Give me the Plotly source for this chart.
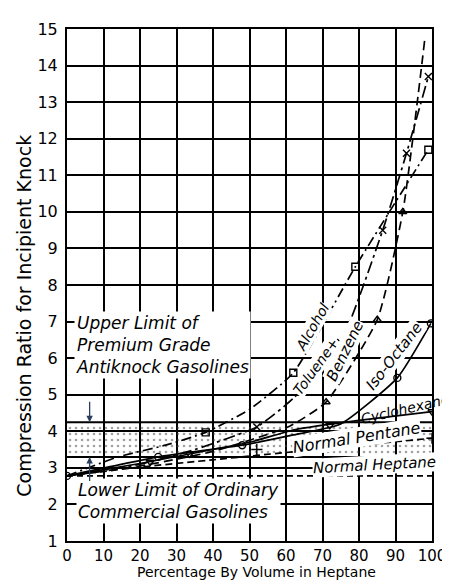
import plotly.graph_objects as go

# ---- data ----
alcohol_x = [0, 14, 27, 38, 50, 62, 79, 99]
alcohol_y = [2.78, 3.3, 3.62, 3.97, 4.6, 5.6, 8.5, 11.7]
alcohol_mx = [38, 62, 79, 99]
alcohol_my = [3.97, 5.6, 8.5, 11.7]

toluene_x = [0, 20, 35, 52, 62, 75, 86.5, 93, 99]
toluene_y = [2.78, 3.1, 3.5, 4.12, 4.9, 6.43, 9.5, 11.6, 13.7]
toluene_mx = [52, 75, 86.5, 93, 99]
toluene_my = [4.12, 6.43, 9.5, 11.6, 13.7]

benzene_x = [0, 20, 40, 61, 71, 85, 92, 98]
benzene_y = [2.78, 3.05, 3.45, 4.14, 4.8, 7.05, 10.0, 14.7]
benzene_mx = [71, 85, 92]
benzene_my = [4.8, 7.05, 10.0]

isooctane_x = [0, 25, 48, 62, 75, 90.5, 99.7]
isooctane_y = [2.78, 3.3, 3.62, 3.9, 4.2, 5.46, 6.95]
isooctane_mx = [0, 25, 48, 90.5, 99.7]
isooctane_my = [2.78, 3.3, 3.62, 5.46, 6.95]

cyclohexane_x = [0, 20, 33.6, 50, 62.6, 80, 100]
cyclohexane_y = [2.78, 3.12, 3.38, 3.7, 4.05, 4.3, 4.54]
cyclohexane_mx = [22.8, 33.6, 72, 100]
cyclohexane_my = [3.16, 3.38, 4.16, 4.54]

pentane_x = [0, 20, 40, 60, 80, 100]
pentane_y = [2.78, 3.02, 3.22, 3.42, 3.62, 3.81]
pentane_mx = [52, 100]
pentane_my = [3.5, 3.81]

heptane_x = [0, 100]
heptane_y = [2.78, 2.78]

upper_limit = 4.25
lower_limit = 3.3

x_ticks = list(range(0, 101, 10))
y_ticks = list(range(1, 16))

FONT = "DejaVu Sans"

fig = go.Figure()

# stippled band between limits
fig.add_trace(go.Scatter(x=[0, 100], y=[lower_limit, lower_limit], mode="lines",
                         line=dict(color="black", width=2), showlegend=False, hoverinfo="skip"))
fig.add_trace(go.Scatter(x=[0, 100], y=[upper_limit, upper_limit], mode="lines",
                         line=dict(color="black", width=2), fill="tonexty",
                         fillcolor="rgba(0,0,0,0)",
                         fillpattern=dict(shape=".", fgcolor="#444", bgcolor="rgba(0,0,0,0)",
                                          size=6, solidity=0.15),
                         showlegend=False, hoverinfo="skip"))

def curve(x, y, dash, width=1.7):
    fig.add_trace(go.Scatter(x=x, y=y, mode="lines",
                             line=dict(color="black", width=width, dash=dash, shape="spline", smoothing=0.5),
                             showlegend=False, hoverinfo="skip"))

def marks(x, y, symbol, size=7):
    fig.add_trace(go.Scatter(x=x, y=y, mode="markers",
                             marker=dict(symbol=symbol, size=size, color="black",
                                         line=dict(color="black", width=1.4)),
                             showlegend=False, hoverinfo="skip"))

curve(heptane_x, heptane_y, "6px,4px")
curve(pentane_x, pentane_y, "7px,4px")
curve(cyclohexane_x, cyclohexane_y, "solid")
curve(isooctane_x, isooctane_y, "solid")
curve(benzene_x, benzene_y, "9px,5px")
curve(toluene_x, toluene_y, "12px,4px,3px,4px")
curve(alcohol_x, alcohol_y, "10px,4px,2px,4px")

marks(alcohol_mx, alcohol_my, "square-open")
marks(toluene_mx, toluene_my, "x-thin-open", 7)
marks(benzene_mx, benzene_my, "triangle-up-open")
marks(isooctane_mx, isooctane_my, "circle-open")
marks(cyclohexane_mx, cyclohexane_my, "triangle-down-open")
marks(pentane_mx, pentane_my, "cross-thin-open", 8)

def lab(text, x, y, angle, size=15, bg="white"):
    fig.add_annotation(x=x, y=y, text=text, showarrow=False, textangle=angle,
                       font=dict(family=FONT, size=size, color="black"),
                       bgcolor=bg, borderpad=0)

lab("<i>Alcohol</i>", 67.2, 6.86, -60, 14)
lab("<i>Toluene+</i>", 68.3, 5.78, -54, 14)
lab("<i>Benzene</i>", 76.2, 6.19, -64, 15)
lab("<i>Iso-Octane</i>", 89.7, 6.05, -52, 15)
lab("<i>Cyclohexane</i>", 92.5, 4.62, -13, size=14, bg="rgba(0,0,0,0)")
lab("<i>Normal Pentane</i>", 79.4, 3.84, -9, 16)
lab("<i>Normal Heptane</i>", 84.3, 3.08, -3, 15)

fig.add_annotation(x=2.0, y=7.3, xanchor="left", yanchor="top", align="left",
                   text="<i>Upper Limit of<br>Premium Grade<br>Antiknock Gasolines</i>",
                   showarrow=False, font=dict(family=FONT, size=17, color="black"),
                   bgcolor="white", borderpad=1)
fig.add_annotation(x=2.5, y=2.1, xanchor="left", yanchor="middle", align="left",
                   text="<i>Lower Limit of Ordinary<br>Commercial Gasolines</i>",
                   showarrow=False, font=dict(family=FONT, size=17, color="black"),
                   bgcolor="white", borderpad=1)

# arrows
fig.add_annotation(x=6.2, y=upper_limit, ax=6.2, ay=4.85, axref="x", ayref="y",
                   showarrow=True, arrowhead=2, arrowsize=1, arrowwidth=1.3, text="")
fig.add_annotation(x=6.2, y=lower_limit, ax=6.2, ay=2.6, axref="x", ayref="y",
                   showarrow=True, arrowhead=2, arrowsize=1, arrowwidth=1.3, text="")

# axis titles
fig.add_annotation(xref="paper", yref="paper", x=-0.118, y=0.44, xanchor="center", yanchor="middle",
                   textangle=-90,
                   text="Compression Ratio for Incipient Knock", showarrow=False,
                   font=dict(family=FONT, size=19, color="black"))
fig.add_annotation(xref="paper", yref="paper", x=0.52, y=-0.06, xanchor="center", yanchor="middle",
                   text="Percentage By Volume in Heptane", showarrow=False,
                   font=dict(family=FONT, size=14, color="black"))

fig.update_layout(
    width=450, height=583,
    margin=dict(l=59, r=22, t=15, b=50),
    paper_bgcolor="white", plot_bgcolor="white",
    showlegend=False,
)
fig.update_xaxes(range=[0, 100], tickvals=x_ticks, ticktext=[str(v) for v in x_ticks],
                 showgrid=True, gridcolor="black", gridwidth=1.7, zeroline=False,
                 showline=True, linecolor="black", linewidth=2, mirror=True,
                 ticks="", ticklabelstandoff=0,
                 tickfont=dict(family=FONT, size=15, color="black"))
fig.update_yaxes(range=[1, 15], tickvals=y_ticks, ticktext=[str(v) for v in y_ticks],
                 showgrid=True, gridcolor="black", gridwidth=1.7, zeroline=False,
                 showline=True, linecolor="black", linewidth=2, mirror=True,
                 ticks="", ticklabelstandoff=4,
                 tickfont=dict(family=FONT, size=16, color="black"))

fig.write_html("out.html")
